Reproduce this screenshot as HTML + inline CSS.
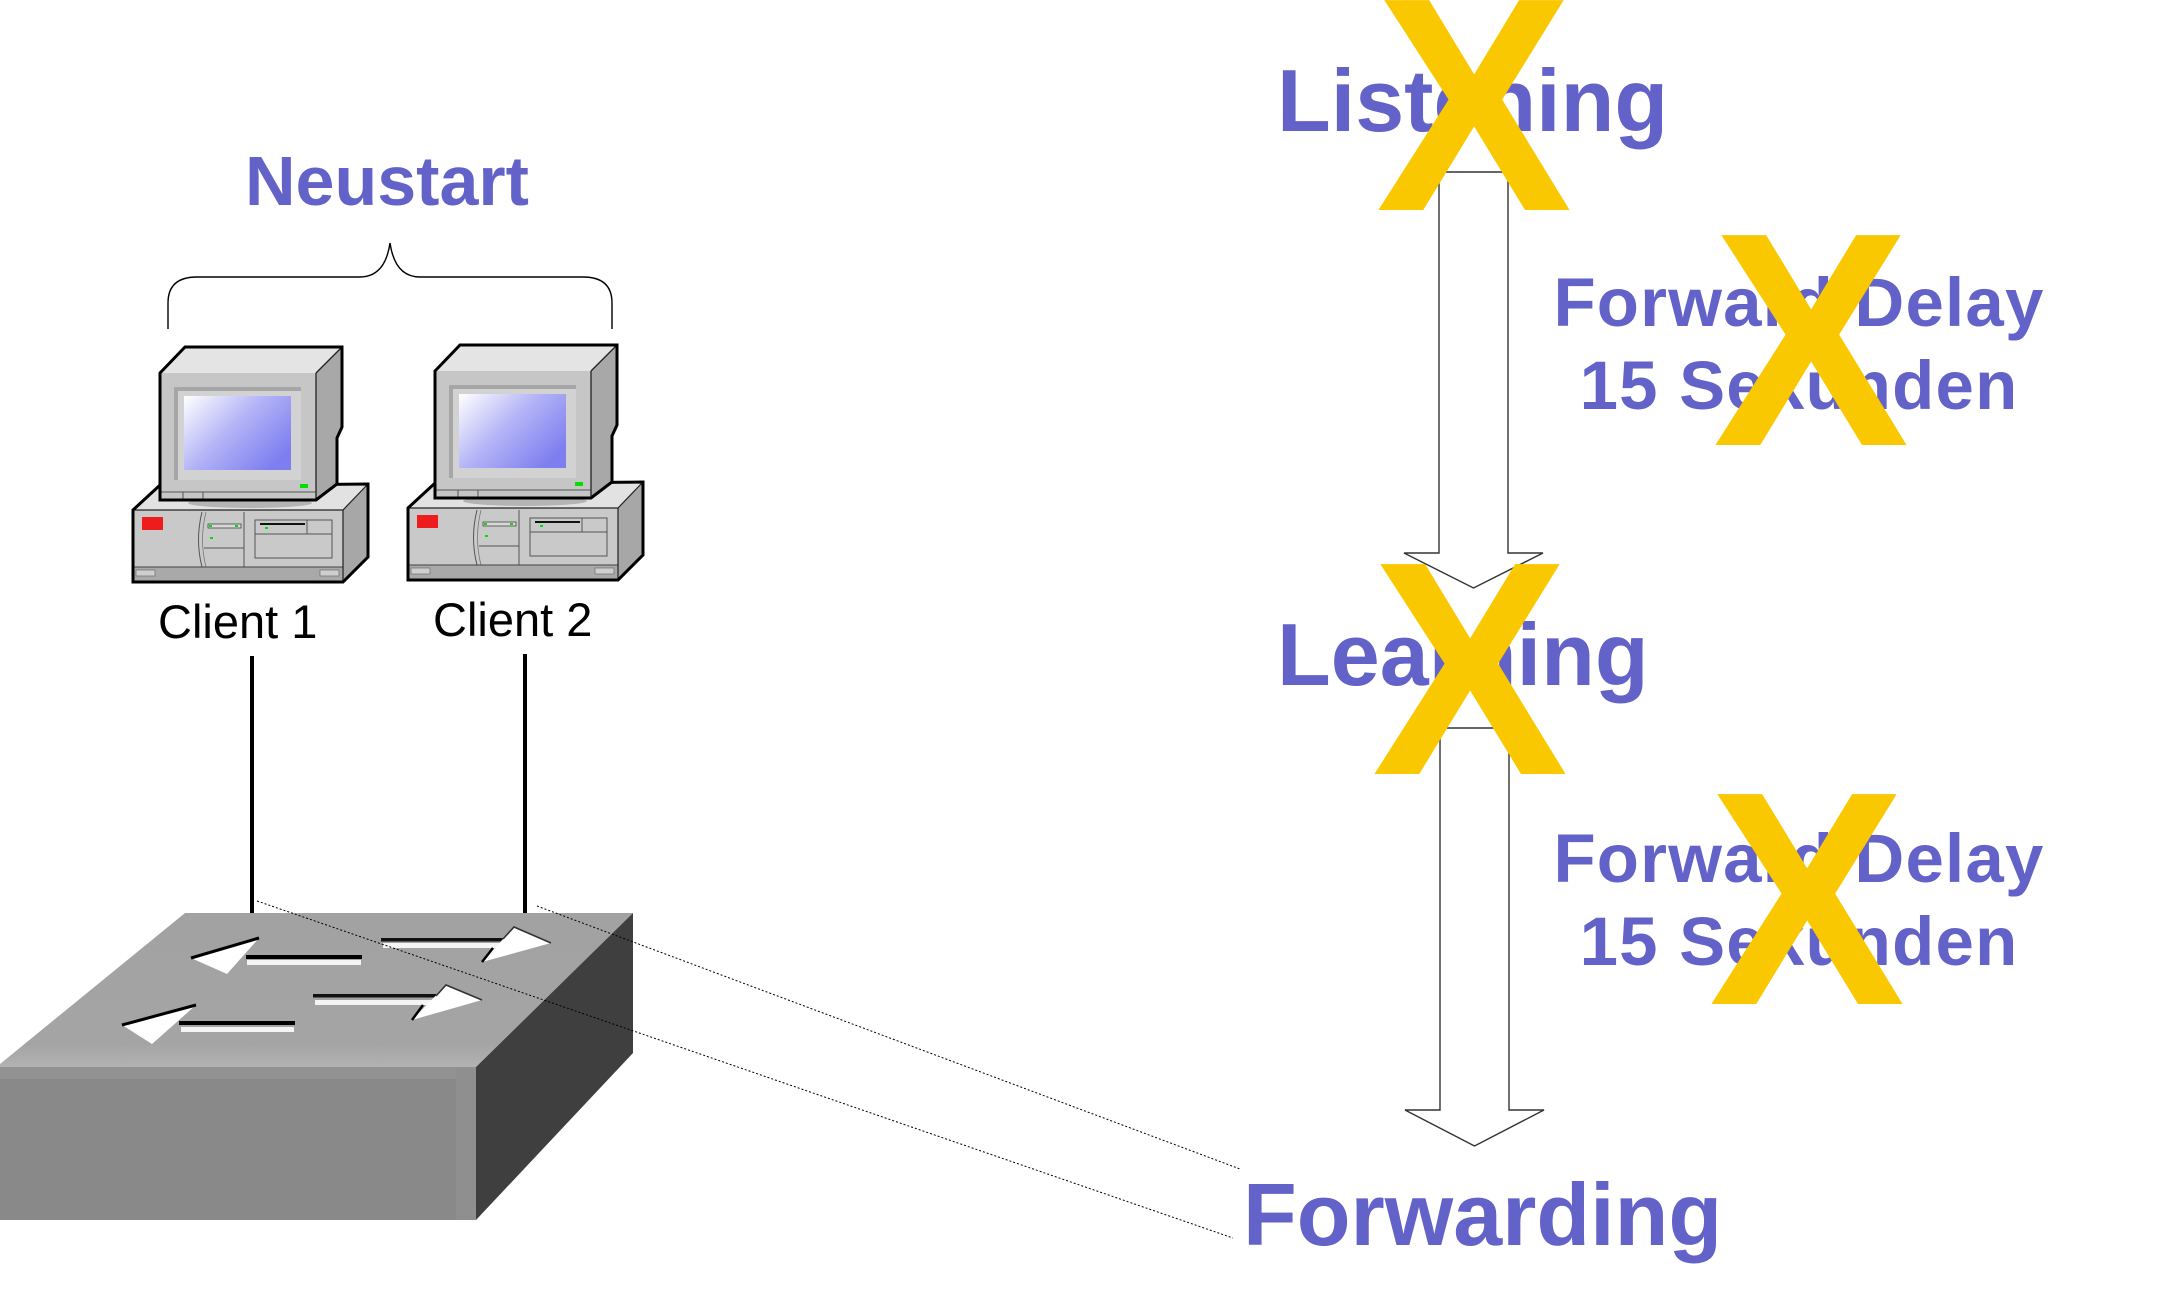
<!DOCTYPE html>
<html>
<head>
<meta charset="utf-8">
<style>
  html, body { margin:0; padding:0; background:#ffffff; }
  body { width:2170px; height:1293px; overflow:hidden; }
  svg { display:block; }
  .blue { fill:#6262C9; font-family:"Liberation Sans", Arial, sans-serif; font-weight:bold; }
  .xx { fill:#FAC800; font-family:"Liberation Sans", Arial, sans-serif; font-weight:bold; font-size:305px; }
  .lbl { fill:#000; font-family:"Liberation Sans", Arial, sans-serif; font-size:47px; }
</style>
</head>
<body>
<svg width="2170" height="1293" viewBox="0 0 2170 1293" xmlns="http://www.w3.org/2000/svg">
  <defs>
    <linearGradient id="scr" x1="0" y1="0" x2="1" y2="0.7">
      <stop offset="0" stop-color="#ffffff"/>
      <stop offset="0.5" stop-color="#b4b4f7"/>
      <stop offset="1" stop-color="#7e7ef0"/>
    </linearGradient>
    <linearGradient id="topface" x1="0" y1="0" x2="0" y2="1">
      <stop offset="0" stop-color="#a2a2a2"/>
      <stop offset="0.85" stop-color="#a4a4a4"/>
      <stop offset="1" stop-color="#b2b2b2"/>
    </linearGradient>
    <g id="pc">
      <!-- case -->
      <polygon points="133,510 159,486 368,484 343,510" fill="#e2e2e2"/>
      <rect x="133" y="510" width="210" height="72" fill="#c9c9c9"/>
      <polygon points="343,510 368,484 368,557 343,582" fill="#a7a7a7"/>
      <rect x="133" y="567" width="210" height="15" fill="#a9a9a9"/>
      <rect x="136" y="570" width="19" height="6" fill="#cfcfcf" stroke="#777" stroke-width="0.8"/>
      <rect x="320" y="570" width="19" height="6" fill="#cfcfcf" stroke="#777" stroke-width="0.8"/>
      <rect x="142" y="517" width="21" height="13" fill="#ee1c1c"/>
      <path d="M202,512 Q195,540 202,567" stroke="#555" fill="none" stroke-width="1"/>
      <path d="M206,512 Q199,540 206,567" stroke="#777" fill="none" stroke-width="0.8"/>
      <line x1="244" y1="512" x2="244" y2="567" stroke="#555" stroke-width="1"/>
      <line x1="204" y1="548" x2="244" y2="548" stroke="#555" stroke-width="1"/>
      <rect x="208" y="524" width="33" height="4" fill="#d8d8d8" stroke="#333" stroke-width="0.7"/>
      <rect x="209" y="525" width="3" height="2" fill="#00e000"/>
      <rect x="235" y="525" width="3" height="2" fill="#00e000"/>
      <rect x="210" y="537" width="3" height="2" fill="#00e000"/>
      <rect x="255" y="520" width="77" height="38" fill="none" stroke="#555" stroke-width="1"/>
      <line x1="255" y1="534" x2="332" y2="534" stroke="#555" stroke-width="1"/>
      <line x1="307" y1="520" x2="307" y2="534" stroke="#555" stroke-width="1"/>
      <line x1="260" y1="524" x2="305" y2="524" stroke="#111" stroke-width="2"/>
      <rect x="265" y="527" width="3" height="2" fill="#00e000"/>
      <line x1="133" y1="567" x2="343" y2="567" stroke="#444" stroke-width="1"/>
      <polyline points="133,510 343,510 368,484" fill="none" stroke="#222" stroke-width="1.2"/>
      <line x1="343" y1="510" x2="343" y2="582" stroke="#222" stroke-width="1.2"/>
      <polygon points="133,510 159,486 368,484 368,557 343,582 133,582" fill="none" stroke="#000" stroke-width="3"/>
      <!-- monitor shadow -->
      <ellipse cx="250" cy="503" rx="62" ry="5" fill="#b4b4b4"/>
      <!-- monitor -->
      <polygon points="185,347 342,347 316,373 160,373" fill="#e4e4e4"/>
      <rect x="160" y="373" width="156" height="127" fill="#c6c6c6"/>
      <polygon points="316,373 342,347 342,427 337,438 337,484 316,500" fill="#a8a8a8"/>
      <rect x="174" y="387" width="127" height="93" fill="#a6a6a6"/>
      <rect x="178" y="391" width="123" height="89" fill="#d2d2d2"/>
      <rect x="184" y="396" width="107" height="74" fill="url(#scr)"/>
      <line x1="160" y1="492" x2="316" y2="492" stroke="#555" stroke-width="1"/>
      <line x1="183" y1="492" x2="183" y2="500" stroke="#555" stroke-width="1"/>
      <line x1="203" y1="492" x2="203" y2="500" stroke="#555" stroke-width="1"/>
      <rect x="300" y="484" width="8" height="4" fill="#00e000"/>
      <line x1="316" y1="373" x2="342" y2="347" stroke="#222" stroke-width="1.3"/>
      <line x1="316" y1="373" x2="316" y2="500" stroke="#222" stroke-width="1.3"/>
      <polygon points="160,373 185,347 342,347 342,427 337,438 337,484 316,500 160,500" fill="none" stroke="#000" stroke-width="3"/>
    </g>
  </defs>

  <!-- Neustart -->
  <text class="blue" x="245" y="205" font-size="70">Neustart</text>
  <!-- brace -->
  <path d="M168,329 L168,303 Q168,277 197,277 L360,277 Q385,277 390,243 Q395,277 420,277 L583,277 Q612,277 612,303 L612,329" fill="none" stroke="#000" stroke-width="1.4"/>

  <!-- computers -->
  <use href="#pc"/>
  <use href="#pc" transform="translate(275,-2)"/>

  <text class="lbl" x="158" y="638">Client 1</text>
  <text class="lbl" x="433" y="636">Client 2</text>

  <!-- cables -->
  <line x1="252" y1="656" x2="252" y2="914" stroke="#000" stroke-width="4"/>
  <line x1="525" y1="654" x2="525" y2="914" stroke="#000" stroke-width="4"/>

  <!-- switch -->
  <polygon points="185,913 633,913 476,1067 0,1067 0,1064" fill="url(#topface)"/>
  <rect x="0" y="1067" width="476" height="153" fill="#898989"/>
  <rect x="0" y="1067" width="476" height="12" fill="#929292"/>
  <rect x="456" y="1067" width="20" height="153" fill="#8f8f8f"/>
  <polygon points="476,1067 633,913 633,1053 476,1220" fill="#3f3f3f"/>

  <!-- switch arrows -->
  <!-- A -->
  <polygon points="191,958 259,938 227,974" fill="#ffffff"/>
  <line x1="191" y1="958" x2="259" y2="938" stroke="#000" stroke-width="3"/>
  <rect x="247" y="960" width="114" height="5" fill="#f4f4f4"/>
  <rect x="246" y="955" width="116" height="4" fill="#000"/>
  <!-- B -->
  <rect x="383" y="943" width="118" height="5" fill="#f4f4f4"/>
  <rect x="381" y="938" width="122" height="3.5" fill="#111"/>
  <polygon points="514,927 551,943 482,962" fill="#ffffff"/>
  <polyline points="503,939 514,927 551,943" fill="none" stroke="#333" stroke-width="1.6"/>
  <line x1="482" y1="962" x2="493" y2="948" stroke="#000" stroke-width="2.5"/>
  <!-- C -->
  <polygon points="122,1025 196,1005 152,1044" fill="#ffffff"/>
  <line x1="122" y1="1025" x2="196" y2="1005" stroke="#000" stroke-width="3"/>
  <rect x="181" y="1027" width="113" height="5" fill="#f4f4f4"/>
  <rect x="179" y="1021" width="116" height="4" fill="#000"/>
  <!-- D -->
  <rect x="315" y="1000" width="120" height="5" fill="#f4f4f4"/>
  <rect x="313" y="994" width="123" height="3.5" fill="#111"/>
  <polygon points="446,985 482,1000 412,1020" fill="#ffffff"/>
  <polyline points="436,996 446,985 482,1000" fill="none" stroke="#333" stroke-width="1.6"/>
  <line x1="412" y1="1020" x2="423" y2="1005" stroke="#000" stroke-width="2.5"/>

  <!-- dotted leader lines -->
  <line x1="537" y1="906" x2="1240" y2="1169" stroke="#000" stroke-width="1" stroke-dasharray="2,2"/>
  <line x1="257" y1="901" x2="1233" y2="1238" stroke="#000" stroke-width="1" stroke-dasharray="2,2"/>

  <!-- block arrows -->
  <polygon points="1439,172 1508,172 1508,553 1543,553 1473.5,588 1404,553 1439,553" fill="#ffffff" stroke="#333" stroke-width="1.4"/>
  <polygon points="1440,728 1509,728 1509,1110 1544,1110 1474.5,1146 1405,1110 1440,1110" fill="#ffffff" stroke="#333" stroke-width="1.4"/>

  <!-- state labels -->
  <text class="blue" x="1277" y="131" font-size="88">Listening</text>
  <text class="blue" x="1277" y="685" font-size="88">Learning</text>
  <text class="blue" x="1243" y="1245" font-size="88">Forwarding</text>

  <text class="blue" x="1799" y="326" font-size="69" text-anchor="middle" letter-spacing="1.2">Forward Delay</text>
  <text class="blue" x="1799" y="409" font-size="69" text-anchor="middle" letter-spacing="1.2">15 Sekunden</text>
  <text class="blue" x="1799" y="882" font-size="69" text-anchor="middle" letter-spacing="1.2">Forward Delay</text>
  <text class="blue" x="1799" y="965" font-size="69" text-anchor="middle" letter-spacing="1.2">15 Sekunden</text>

  <!-- yellow X marks -->
  <text class="xx" x="0" y="0" text-anchor="middle" transform="translate(1474,210) scale(0.965,1)">X</text>
  <text class="xx" x="0" y="0" text-anchor="middle" transform="translate(1811,445) scale(0.965,1)">X</text>
  <text class="xx" x="0" y="0" text-anchor="middle" transform="translate(1470,774) scale(0.965,1)">X</text>
  <text class="xx" x="0" y="0" text-anchor="middle" transform="translate(1807,1004) scale(0.965,1)">X</text>
</svg>
</body>
</html>
